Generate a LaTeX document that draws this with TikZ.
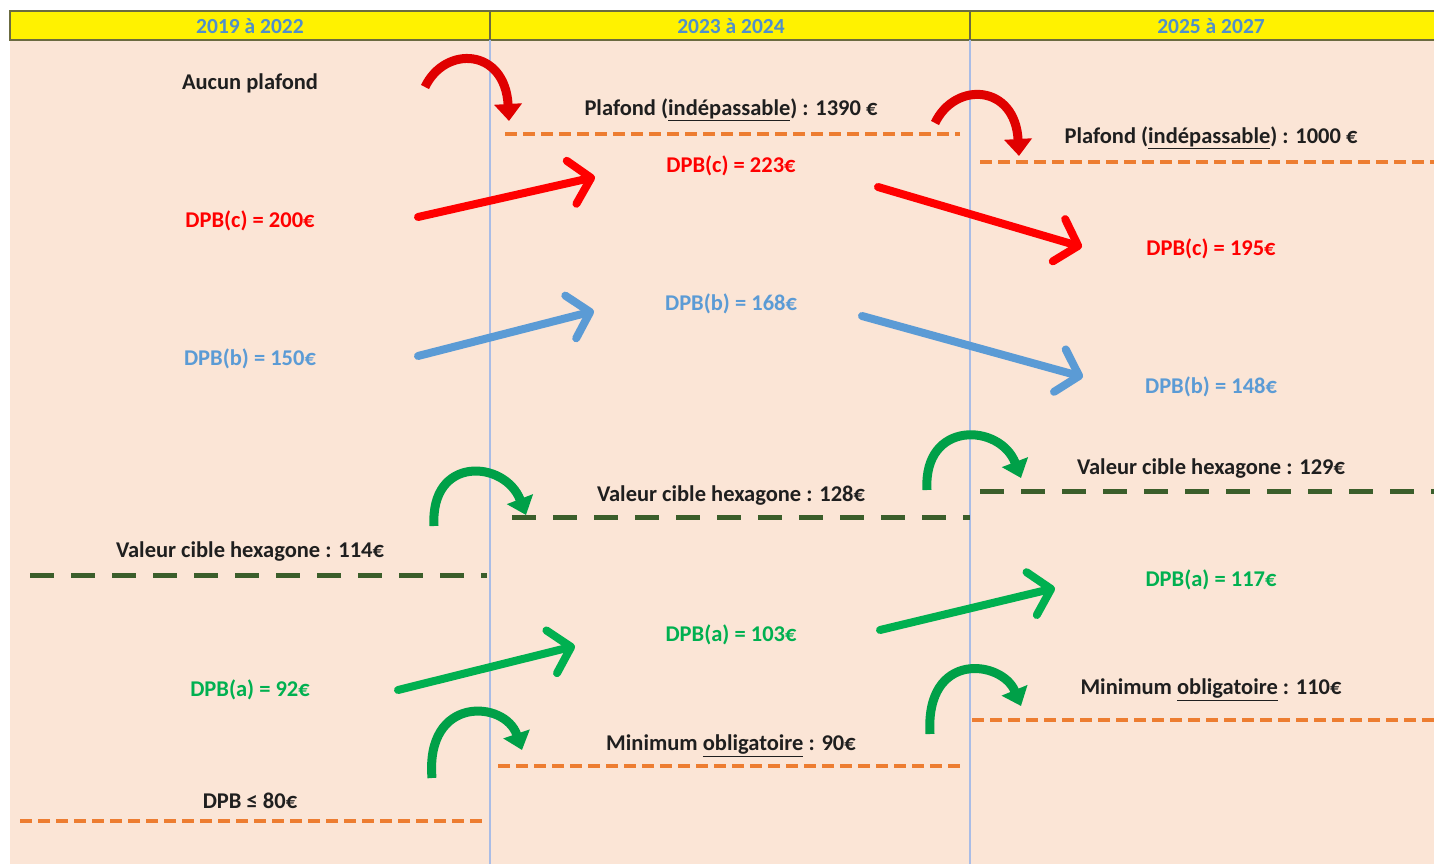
\documentclass[tikz,border=0pt]{standalone}
\usepackage{fontspec}
\setmainfont{Carlito}
\usetikzlibrary{arrows.meta}
\definecolor{bgpink}{HTML}{FBE5D6}
\definecolor{hdrtext}{HTML}{4F8FCB}
\definecolor{hdrline}{HTML}{6B6B40}
\definecolor{divline}{HTML}{A9BCE6}
\definecolor{dpbred}{HTML}{FF0000}
\definecolor{dpbblue}{HTML}{5B9BD5}
\definecolor{dpbgreen}{HTML}{00B050}
\definecolor{dorange}{HTML}{ED7D31}
\definecolor{dgreen}{HTML}{3B5E2B}
\definecolor{cred}{HTML}{E00000}
\definecolor{cgreen}{HTML}{00A048}
\begin{document}
\begin{tikzpicture}[x=1pt,y=-1pt,
  lbl/.style={font=\fontsize{22.5}{26}\selectfont\bfseries, inner sep=0pt, text=black!88},
  hdr/.style={font=\fontsize{21.5}{25}\selectfont\bfseries, inner sep=0pt, text=hdrtext},
  redt/.style={lbl, text=dpbred},
  bluet/.style={lbl, text=dpbblue},
  greent/.style={lbl, text=dpbgreen},
  odash/.style={draw=dorange, line width=3.6, dash pattern=on 12pt off 6pt},
  gdash/.style={draw=dgreen, line width=5, dash pattern=on 24pt off 17pt},
  sarrow/.style={line width=8, line cap=round, -{Straight Barb[length=20pt,width=44pt,round]}},
  carrow/.style={line width=9, -{Triangle[length=17pt,width=27pt]}},
  divider/.style={draw=divline, line width=1.2},
]
\useasboundingbox (0,0) rectangle (1434,864);
\fill[white] (0,0) rectangle (1434,864);
\fill[bgpink] (10,40) rectangle (1434,864);
% header
\draw[hdrline, fill=yellow, line width=1.5] (10,11) rectangle (1440,40);
\draw[hdrline, line width=1.5] (490,11) -- (490,40) (970,11) -- (970,40);
\draw[divider] (490,40) -- (490,864);
\draw[divider] (970,40) -- (970,864);
\node[hdr] (h1) at (250,26) {2019 à 2022};
\node[hdr] (h2) at (731,26) {2023 à 2024};
\node[hdr] (h3) at (1211,26) {2025 à 2027};

% texts column 1
\node[lbl] (noceil) at (250,83) {Aucun plafond};
\node[redt] (c1) at (250,221) {DPB(c) = 200€};
\node[bluet] (b1) at (250,359) {DPB(b) = 150€};
\node[lbl] (v1) at (250,552) {Valeur cible hexagone : 114€};
\node[greent] (a1) at (250,690) {DPB(a) = 92€};
\node[lbl] (m1) at (250,801) {DPB ≤ 80€};

% column 2
\node[lbl] (p2) at (731,110) {Plafond (\underline{indépassable}) : 1390 €};
\node[redt] (c2) at (731,166) {DPB(c) = 223€};
\node[bluet] (b2) at (731,304) {DPB(b) = 168€};
\node[lbl] (v2) at (731,496) {Valeur cible hexagone : 128€};
\node[greent] (a2) at (731,635) {DPB(a) = 103€};
\node[lbl] (m2) at (731,746) {Minimum \underline{obligatoire} : 90€};

% column 3
\node[lbl] (p3) at (1211,138) {Plafond (\underline{indépassable}) : 1000 €};
\node[redt] (c3) at (1211,249) {DPB(c) = 195€};
\node[bluet] (b3) at (1211,387) {DPB(b) = 148€};
\node[lbl] (v3) at (1211,469) {Valeur cible hexagone : 129€};
\node[greent] (a3) at (1211,580) {DPB(a) = 117€};
\node[lbl] (m3) at (1211,690) {Minimum \underline{obligatoire} : 110€};

% dashed lines
\coordinate (p2l) at (505,134); \coordinate (p2r) at (960,134);
\coordinate (p3l) at (980,162); \coordinate (p3r) at (1434,162);
\coordinate (v1l) at (30,575);  \coordinate (v1r) at (487,575);
\coordinate (v2l) at (512,517); \coordinate (v2r) at (970,517);
\coordinate (v3l) at (980,491); \coordinate (v3r) at (1434,491);
\coordinate (m1l) at (20,821);  \coordinate (m1r) at (485,821);
\coordinate (m2l) at (498,766); \coordinate (m2r) at (962,766);
\coordinate (m3l) at (972,720); \coordinate (m3r) at (1434,720);
\draw[odash] (p2l) -- (p2r);
\draw[odash] (p3l) -- (p3r);
\draw[gdash] (v1l) -- (v1r);
\draw[gdash] (v2l) -- (v2r);
\draw[gdash] (v3l) -- (v3r);
\draw[odash] (m1l) -- (m1r);
\draw[odash] (m2l) -- (m2r);
\draw[odash] (m3l) -- (m3r);

% straight arrows
\coordinate (rc1s) at (418,217); \coordinate (rc1e) at (595,177);
\coordinate (rc2s) at (878,187); \coordinate (rc2e) at (1082,247);
\coordinate (bc1s) at (418,356); \coordinate (bc1e) at (594,311);
\coordinate (bc2s) at (862,316); \coordinate (bc2e) at (1083,377);
\coordinate (gc1s) at (398,690); \coordinate (gc1e) at (575,646);
\coordinate (gc2s) at (880,630); \coordinate (gc2e) at (1055,588);
\draw[sarrow, dpbred] (rc1s) -- (rc1e);
\draw[sarrow, dpbred] (rc2s) -- (rc2e);
\draw[sarrow, dpbblue] (bc1s) -- (bc1e);
\draw[sarrow, dpbblue] (bc2s) -- (bc2e);
\draw[sarrow, dpbgreen] (gc1s) -- (gc1e);
\draw[sarrow, dpbgreen] (gc2s) -- (gc2e);

% curved arrows
\coordinate (cr1s) at (425,87);  \coordinate (cr1e) at (509,121);
\coordinate (cr2s) at (935,123); \coordinate (cr2e) at (1019,156);
\coordinate (cg1s) at (434,526); \coordinate (cg1e) at (526,515);
\coordinate (cg2s) at (927,490); \coordinate (cg2e) at (1021,478);
\coordinate (cg3s) at (432,778); \coordinate (cg3e) at (522,750);
\coordinate (cg4s) at (930,734); \coordinate (cg4e) at (1021,706);
\draw[carrow, cred] (cr1s) .. controls (445,45) and (505,48) .. (cr1e);
\draw[carrow, cred] (cr2s) .. controls (955,81) and (1015,84) .. (cr2e);
\draw[carrow, cgreen] (cg1s) .. controls (430,455) and (505,460) .. (cg1e);
\draw[carrow, cgreen] (cg2s) .. controls (923,420) and (1000,423) .. (cg2e);
\draw[carrow, cgreen] (cg3s) .. controls (425,695) and (505,700) .. (cg3e);
\draw[carrow, cgreen] (cg4s) .. controls (925,650) and (1002,660) .. (cg4e);
\end{tikzpicture}
\end{document}
